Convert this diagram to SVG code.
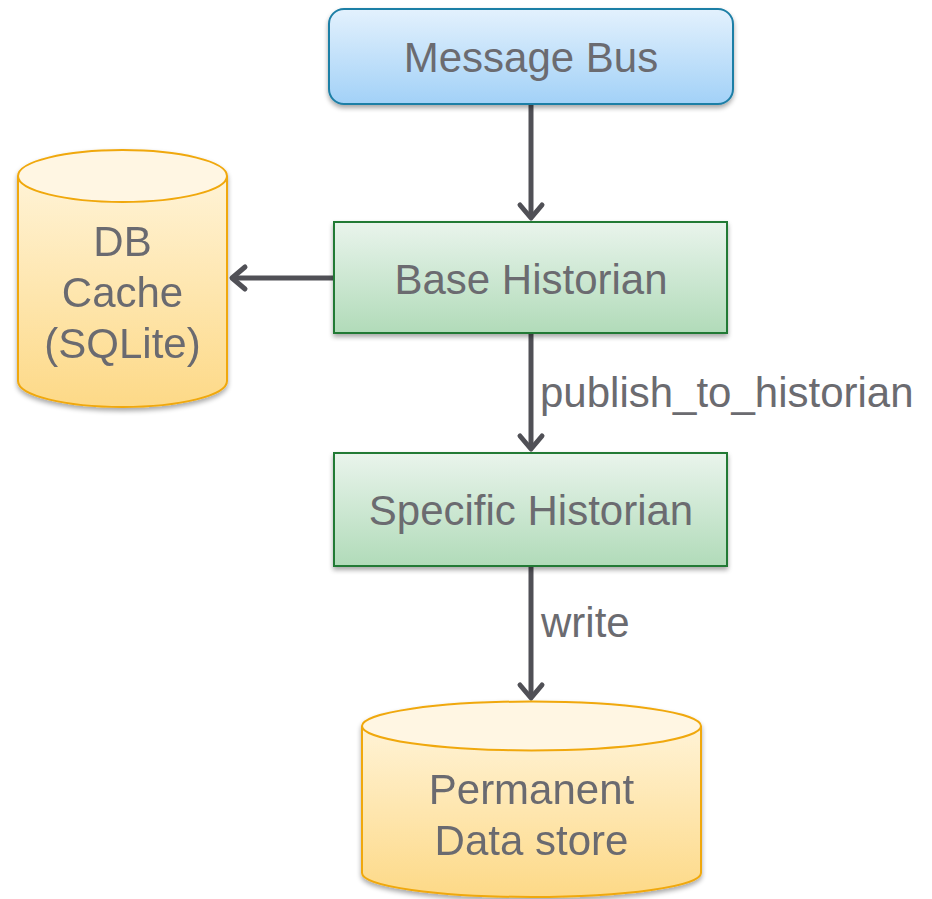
<svg xmlns="http://www.w3.org/2000/svg" width="932" height="899" viewBox="0 0 932 899">
  <style>
    .lbl { font-family: "Liberation Sans", Arial, sans-serif; font-size: 42px; fill: #6b6b70; }
    .mid { text-anchor: middle; }
    .conn { stroke: #505056; stroke-width: 5; fill: none; }
    .head { stroke: #505056; stroke-width: 5; fill: none; stroke-linecap: round; stroke-linejoin: round; }
    .proc { fill: url(#gGreen); stroke: #237a36; stroke-width: 2; filter: url(#shadow); }
    .store { fill: url(#gGold); stroke: #f0a80c; stroke-width: 2; }
  </style>
  <defs>
    <linearGradient id="gBlue" x1="0" y1="0" x2="0" y2="1">
      <stop offset="0" stop-color="#e3f1fd"/>
      <stop offset="1" stop-color="#a2d1f7"/>
    </linearGradient>
    <linearGradient id="gGreen" x1="0" y1="0" x2="0" y2="1">
      <stop offset="0" stop-color="#e9f4ec"/>
      <stop offset="1" stop-color="#b1dbb9"/>
    </linearGradient>
    <linearGradient id="gGold" x1="0" y1="0" x2="0" y2="1">
      <stop offset="0" stop-color="#fff3d6"/>
      <stop offset="1" stop-color="#fdd987"/>
    </linearGradient>
    <filter id="shadow" x="-10%" y="-10%" width="120%" height="130%">
      <feGaussianBlur in="SourceAlpha" stdDeviation="2.5"/>
      <feOffset dx="0" dy="3" result="b"/>
      <feComponentTransfer><feFuncA type="linear" slope="0.35"/></feComponentTransfer>
      <feMerge><feMergeNode/><feMergeNode in="SourceGraphic"/></feMerge>
    </filter>
  </defs>

  <!-- connectors -->
  <g id="connectors">
    <line class="conn" x1="531" y1="104" x2="531" y2="218"/>
    <polyline class="head" points="520,205 531,218 542,205"/>

    <line class="conn" x1="334" y1="278" x2="232" y2="278"/>
    <polyline class="head" points="245,267 232,278 245,289"/>

    <line class="conn" x1="531" y1="333" x2="531" y2="449"/>
    <polyline class="head" points="520,436 531,449 542,436"/>
    <text class="lbl" x="540" y="407">publish_to_historian</text>

    <line class="conn" x1="531" y1="566" x2="531" y2="698"/>
    <polyline class="head" points="520,685 531,698 542,685"/>
    <text class="lbl" x="541" y="637">write</text>
  </g>

  <!-- message bus -->
  <g id="message-bus">
    <rect x="329" y="9" width="404" height="95" rx="15" fill="url(#gBlue)" stroke="#1f7fa6" stroke-width="2" filter="url(#shadow)"/>
    <text class="lbl mid" x="531" y="72">Message Bus</text>
  </g>

  <!-- base historian -->
  <g id="base-historian">
    <rect class="proc" x="334" y="222" width="393" height="111"/>
    <text class="lbl mid" x="531" y="294">Base Historian</text>
  </g>

  <!-- specific historian -->
  <g id="specific-historian">
    <rect class="proc" x="334" y="453" width="393" height="113"/>
    <text class="lbl mid" x="531" y="525">Specific Historian</text>
  </g>

  <!-- local cache database -->
  <g id="db-cache" filter="url(#shadow)">
    <path class="store" d="M18,176 L18,381 A104.5,26 0 0 0 227,381 L227,176"/>
    <ellipse cx="122.5" cy="176" rx="104.5" ry="26" fill="#fff6e3" stroke="#f0a80c" stroke-width="2"/>
    <text class="lbl mid" x="122.5" y="256">DB</text>
    <text class="lbl mid" x="122.5" y="307">Cache</text>
    <text class="lbl mid" x="122.5" y="358">(SQLite)</text>
  </g>

  <!-- permanent data store -->
  <g id="permanent-store" filter="url(#shadow)">
    <path class="store" d="M362,726 L362,873 A169.5,24 0 0 0 701,873 L701,726"/>
    <ellipse cx="531.5" cy="726" rx="169.5" ry="24.5" fill="#fff6e3" stroke="#f0a80c" stroke-width="2"/>
    <text class="lbl mid" x="531.5" y="804">Permanent</text>
    <text class="lbl mid" x="531.5" y="855">Data store</text>
  </g>
</svg>
